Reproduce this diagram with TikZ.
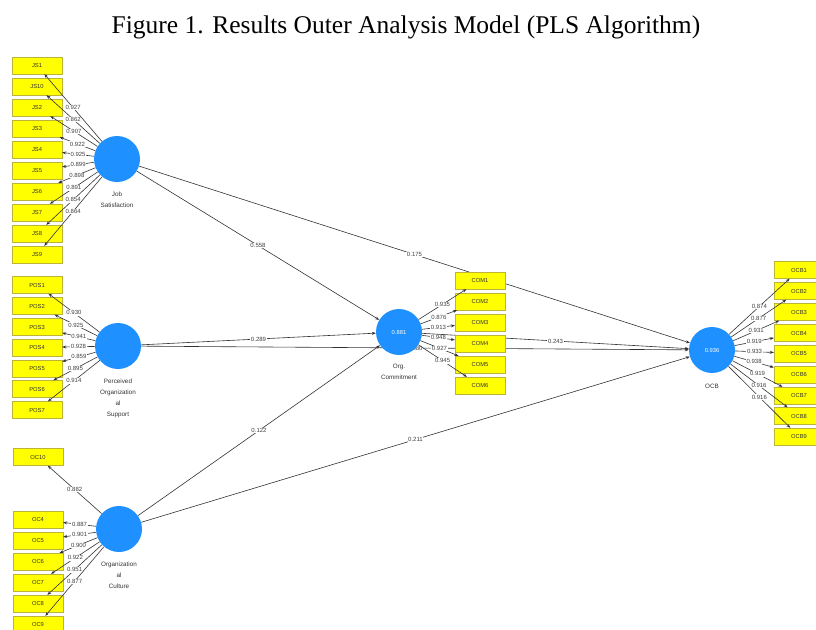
\documentclass[tikz,border=0pt]{standalone}
\usepackage{fontspec}
\setmainfont{Liberation Serif}
\newfontfamily\plsfont{Liberation Sans}
\usetikzlibrary{arrows.meta,positioning,backgrounds}
\definecolor{lvblue}{RGB}{30,144,255}
\definecolor{mvyellow}{RGB}{255,255,0}
\definecolor{edgegray}{RGB}{50,50,50}

\begin{document}
\begin{tikzpicture}[x=1pt, y=-1pt,
    lv/.style={circle, fill=lvblue, minimum size=46pt, inner sep=0pt,
               text=white, font=\plsfont\fontsize{5.8}{6}\selectfont},
    mv/.style={rectangle, fill=mvyellow, draw=yellow!70!black, line width=0.3pt,
               minimum width=50pt, minimum height=17pt, inner sep=0pt,
               font=\plsfont\fontsize{5.8}{6}\selectfont, text=black!80},
    lvname/.style={align=center, inner sep=0pt, text=black!80,
               font=\plsfont\fontsize{6.3}{11}\selectfont},
    arr/.style={-{Stealth[length=4pt, width=3pt]}, line width=0.6pt, draw=edgegray},
    wt/.style={fill=white, inner sep=0.6pt, text=black!75,
               font=\plsfont\fontsize{6}{6}\selectfont}
  ]
  \useasboundingbox (0,0) rectangle (816,629);
  % Title
  \node[font=\fontsize{25.5}{30}\selectfont, anchor=base] (title) at (406,33)
    {Figure 1. Results Outer Analysis Model (PLS Algorithm)};
  % Latent variables
  \node[lv] (JSat) at (117,159) {};
  \node[lv] (POSup) at (118,346) {};
  \node[lv] (OCul) at (119,529) {};
  \node[lv] (OCom) at (399,332) {0.881};
  \node[lv] (OCBh) at (712,350) {0.936};
  \node[lvname, below=10pt of JSat] (JSatName) {Job\\Satisfaction};
  \node[lvname, below=10pt of POSup] (POSupName) {Perceived\\Organization\\al\\Support};
  \node[lvname, below=10pt of OCul] (OCulName) {Organization\\al\\Culture};
  \node[lvname, below=9pt of OCom] (OComName) {Org.\\Commitment};
  \node[lvname, below=11pt of OCBh] (OCBhName) {OCB};
  % Indicators
  \foreach \n/\y in {JS1/65.5, JS10/86.5, JS2/107.5, JS3/128.5, JS4/149.5,
                     JS5/170.5, JS6/191.5, JS7/212.5, JS8/233.5, JS9/254.5}
    \node[mv] (\n) at (37,\y) {\n};
  \foreach \n/\y in {POS1/285, POS2/306, POS3/327, POS4/347.5, POS5/368.5,
                     POS6/389, POS7/410}
    \node[mv] (\n) at (37,\y) {\n};
  \foreach \n/\y in {OC10/457, OC4/519.5, OC5/540.5, OC6/561.5, OC7/582.5,
                     OC8/603.5, OC9/624.5}
    \node[mv] (\n) at (38,\y) {\n};
  \foreach \n/\y in {COM1/280.5, COM2/301.5, COM3/322.5, COM4/343.5,
                     COM5/364.5, COM6/385.5}
    \node[mv] (\n) at (480,\y) {\n};
  \foreach \n/\y in {OCB1/270, OCB2/291, OCB3/312, OCB4/333, OCB5/353.5,
                     OCB6/374.5, OCB7/395.5, OCB8/416, OCB9/436.5}
    \node[mv] (\n) at (799,\y) {\n};
  % Inner model
  \begin{scope}[on background layer]
    \draw[arr] (JSat) -- (OCom) node[midway, wt] {0.558};
    \draw[arr] (JSat) -- (OCBh) node[midway, wt] {0.175};
    \draw[arr] (POSup) -- (OCom) node[midway, wt] {0.289};
    \draw[arr] (POSup) -- (OCBh) node[midway, wt] {0.080};
    \draw[arr] (OCom) -- (OCBh) node[midway, wt] {0.243};
    \draw[arr] (OCul) -- (OCom) node[midway, wt] {0.122};
    \draw[arr] (OCul) -- (OCBh) node[midway, wt] {0.211};
  \end{scope}
  % Outer loadings
  \foreach \n/\w in {JS1/0.927, JS10/0.862, JS2/0.907, JS3/0.922, JS4/0.925,
                     JS5/0.899, JS6/0.898, JS7/0.891, JS8/0.854, JS9/0.864}
    \draw[arr] (JSat) -- (\n) node[midway, wt] {\w};
  \foreach \n/\w in {POS1/0.930, POS2/0.925, POS3/0.941, POS4/0.928,
                     POS5/0.859, POS6/0.895, POS7/0.914}
    \draw[arr] (POSup) -- (\n) node[midway, wt] {\w};
  \foreach \n/\w in {OC10/0.882, OC4/0.887, OC5/0.901, OC6/0.900,
                     OC7/0.922, OC8/0.951, OC9/0.877}
    \draw[arr] (OCul) -- (\n) node[midway, wt] {\w};
  \foreach \n/\w in {COM1/0.935, COM2/0.876, COM3/0.913, COM4/0.948,
                     COM5/0.927, COM6/0.945}
    \draw[arr] (OCom) -- (\n) node[midway, wt] {\w};
  \foreach \n/\w in {OCB1/0.874, OCB2/0.877, OCB3/0.931, OCB4/0.919, OCB5/0.933,
                     OCB6/0.938, OCB7/0.919, OCB8/0.916, OCB9/0.916}
    \draw[arr] (OCBh) -- (\n) node[midway, wt] {\w};
\end{tikzpicture}
\end{document}
